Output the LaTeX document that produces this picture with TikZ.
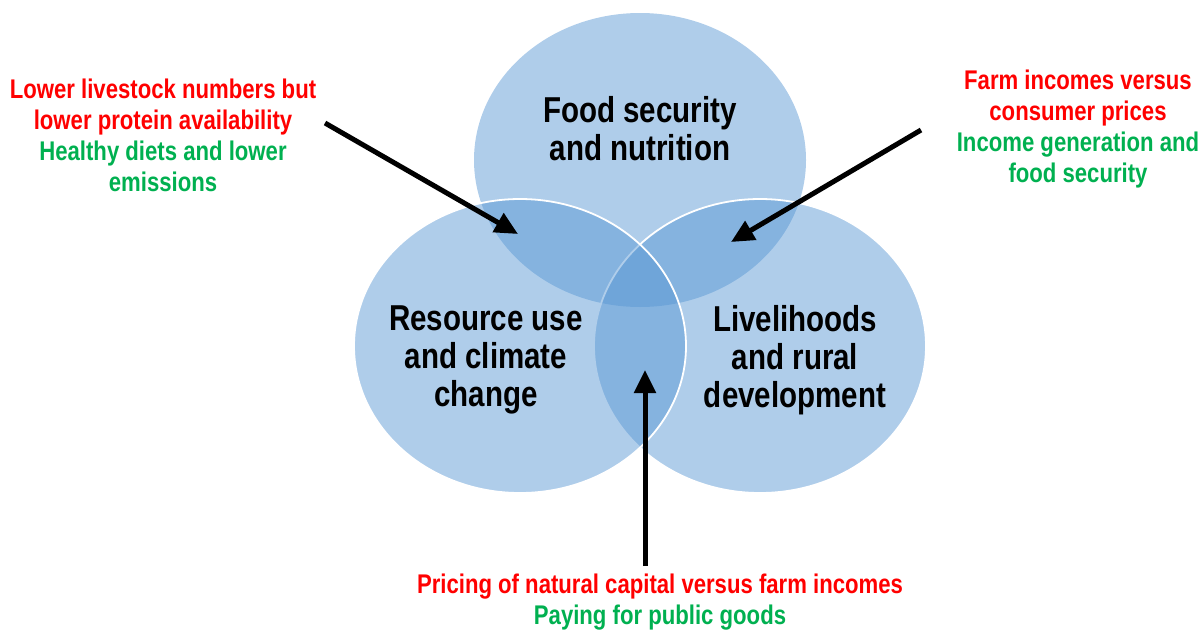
\documentclass[tikz,border=0pt]{standalone}
\usepackage{fontspec}
\newfontfamily\narrowsans{Liberation Sans}[FakeStretch=0.82]
\usepackage{tikz}
\usetikzlibrary{arrows.meta}
\usepackage{xcolor}
\definecolor{vennblue}{RGB}{87,150,211}
\definecolor{tradered}{RGB}{255,0,0}
\definecolor{syngreen}{RGB}{0,176,80}

\begin{document}
\begin{tikzpicture}[x=1pt, y=-1pt]
        % ================= 样式定义 =================
        \tikzset{
            % 半透明蓝色圆 (重叠处自动加深)
            venn/.style={fill=vennblue, fill opacity=0.475},
            % 白色细边
            vennrim/.style={venn, draw=white, line width=1.8pt},
            % 圆内主题文字
            topic/.style={align=center, font=\narrowsans\bfseries\fontsize{36}{38}\selectfont, text=black},
            % 外部注释文字
            note/.style={align=center, font=\narrowsans\bfseries\fontsize{27}{31}\selectfont},
            % 黑色粗箭头
            pointer/.style={line width=5pt, black, -{Triangle[length=23pt, width=21pt]}}
        }

        \useasboundingbox (0,0) rectangle (1202,630);

        % ================= 三个圆 (上, 右, 左) =================
        \fill[venn] (640,160) ellipse [x radius=166pt, y radius=147pt];
        \filldraw[vennrim] (760,346) ellipse [x radius=166pt, y radius=147pt];
        \filldraw[vennrim] (520,346) ellipse [x radius=166pt, y radius=147pt];

        % 主题文字
        \node[topic] (food) at (640,129) {Food security\\and nutrition};
        \node[topic] (resource) at (486,360) {Resource use\\and climate\\change};
        \node[topic] (liveli) at (795,360) {Livelihoods\\and rural\\development};

        % ================= 外部注释 =================
        \node[note] (leftnote) at (163,135) {\textcolor{tradered}{Lower livestock numbers but}\\
            \textcolor{tradered}{lower protein availability}\\
            \textcolor{syngreen}{Healthy diets and lower}\\
            \textcolor{syngreen}{emissions}};
        \node[note] (rightnote) at (1078,129) {\textcolor{tradered}{Farm incomes versus}\\
            \textcolor{tradered}{consumer prices}\\
            \textcolor{syngreen}{Income generation and}\\
            \textcolor{syngreen}{food security}};
        \node[note] (bottomnote) at (660,602) {\textcolor{tradered}{Pricing of natural capital versus farm incomes}\\
            \textcolor{syngreen}{Paying for public goods}};

        % 箭头端点
        \coordinate (ltail) at (325,123);
        \coordinate (ltip) at (518,234);
        \coordinate (rtail) at (921,130);
        \coordinate (rtip) at (731,242);
        \coordinate (btail) at (645,566);
        \coordinate (btip) at (645,370);

        % 箭头指向重叠区
        \draw[pointer] (ltail) -- (ltip);
        \draw[pointer] (rtail) -- (rtip);
        \draw[pointer] (btail) -- (btip);

\end{tikzpicture}
\end{document}
